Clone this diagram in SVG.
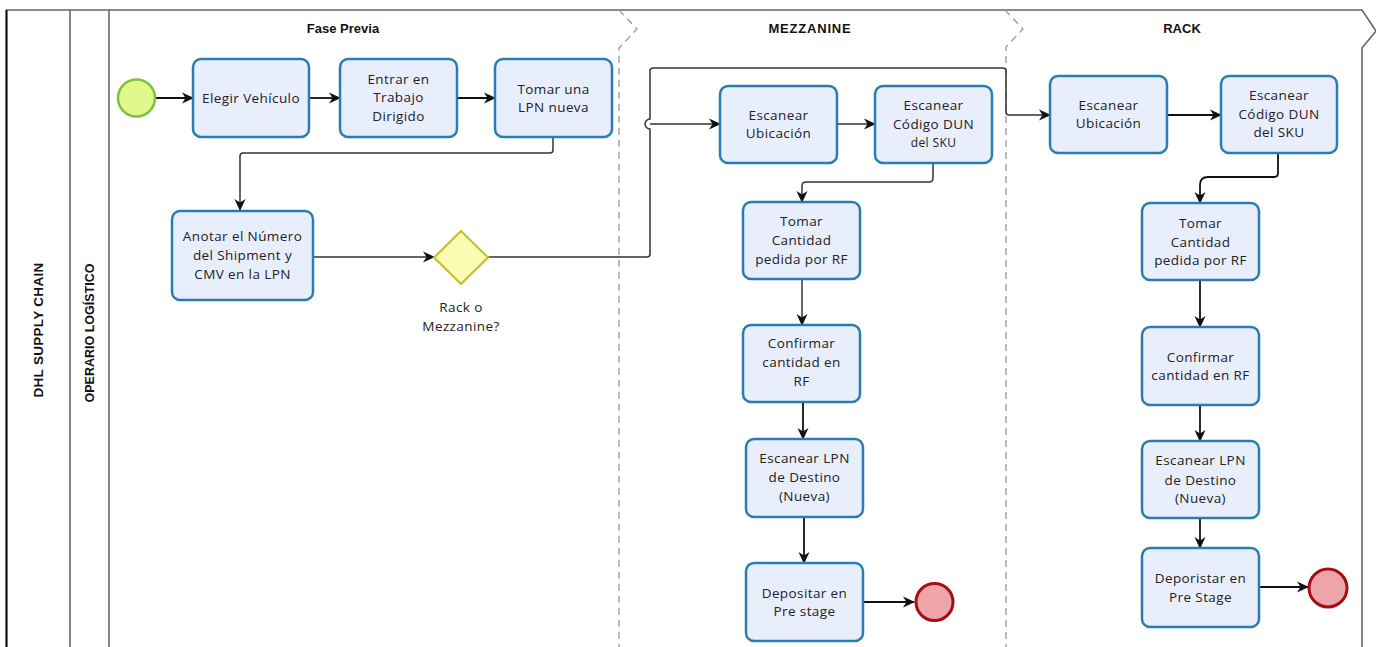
<svg xmlns="http://www.w3.org/2000/svg" width="1376" height="647" viewBox="0 0 1376 647">
  <style>
    .task { fill: #e9eefc; stroke: #2a7db0; stroke-width: 2.5; }
    .txt { font-family: "Open Sans", "Liberation Sans", sans-serif; font-size: 13.5px; letter-spacing: 0.4px; fill: #222; text-anchor: middle; }
    .hdr { font-family: "Liberation Sans", Arial, sans-serif; font-size: 13px; font-weight: bold; fill: #111; text-anchor: middle; }
    .lane { font-family: "Liberation Sans", Arial, sans-serif; font-size: 12.5px; font-weight: bold; fill: #111; text-anchor: middle; }
    .conn { fill: none; stroke: #333; stroke-width: 1.5; }
    .bold { stroke: #111; stroke-width: 1.8; }
    .sep { fill: none; stroke: #999; stroke-width: 1.3; stroke-dasharray: 7 5; }
    .frame { fill: none; stroke: #666; stroke-width: 1.6; }
  </style>
  <defs>
    <marker id="arrow" markerUnits="userSpaceOnUse" markerWidth="13" markerHeight="12" refX="11" refY="6" orient="auto">
      <path d="M0,0.5 L12,6 L0,11.5 L3.5,6 z" fill="#111"/>
    </marker>
  </defs>

  <rect width="1376" height="647" fill="#ffffff"/>

  <!-- pool and lane frame -->
  <g id="pool">
    <path d="M6,10 H1362 L1376,31 L1362,48 V647" class="frame"/>
    <line x1="6.5" y1="10" x2="6.5" y2="647" stroke="#111" stroke-width="2.2"/>
    <line x1="70" y1="10" x2="70" y2="647" stroke="#777" stroke-width="1.8"/>
    <line x1="109" y1="10" x2="109" y2="647" stroke="#777" stroke-width="1.8"/>
    <text class="lane" transform="translate(43,330) rotate(-90)" style="font-size:13.5px;letter-spacing:0.3px">DHL SUPPLY CHAIN</text>
    <text class="lane" transform="translate(94,333) rotate(-90)">OPERARIO LOGÍSTICO</text>
  </g>

  <!-- phase separators and titles -->
  <g id="phases">
    <path d="M619,10 L637,29 L619,48 V647" class="sep"/>
    <path d="M1005,10 L1023,29 L1006,47 V647" class="sep"/>
    <text class="hdr" x="343" y="32.5">Fase Previa</text>
    <text class="hdr" x="810" y="32.5" style="letter-spacing:0.8px">MEZZANINE</text>
    <text class="hdr" x="1182" y="32.5">RACK</text>
  </g>

  <!-- connectors -->
  <g id="connectors">
    <line x1="156" y1="98" x2="193" y2="98" class="conn bold" marker-end="url(#arrow)"/>
    <line x1="309" y1="98" x2="340" y2="98" class="conn bold" marker-end="url(#arrow)"/>
    <line x1="457" y1="98" x2="495" y2="98" class="conn bold" marker-end="url(#arrow)"/>
    <path d="M553,137 V150 Q553,153 550,153 H243 Q240,153 240,156 V210" class="conn" marker-end="url(#arrow)"/>
    <line x1="313" y1="257" x2="434" y2="257" class="conn" marker-end="url(#arrow)"/>
    <!-- gateway to rack, with a line jump where it meets the mezzanine branch -->
    <path d="M488,257 H647 Q650,257 650,254 V129 A5,5 0 0 1 650,119 V71 Q650,68 653,68 H1003 Q1006,68 1006,71 V112 Q1006,115 1009,115 H1050" class="conn" marker-end="url(#arrow)"/>
    <!-- gateway to mezzanine -->
    <path d="M650,124 H720" class="conn" marker-end="url(#arrow)"/>
    <line x1="837" y1="124" x2="875" y2="124" class="conn" marker-end="url(#arrow)"/>
    <path d="M933,163 V178 Q933,182 929,182 H806 Q802,182 802,186 V202" class="conn" marker-end="url(#arrow)"/>
    <line x1="802" y1="279" x2="802" y2="325" class="conn" marker-end="url(#arrow)"/>
    <line x1="803" y1="402" x2="803" y2="439" class="conn bold" marker-end="url(#arrow)"/>
    <line x1="804" y1="517" x2="804" y2="563" class="conn bold" marker-end="url(#arrow)"/>
    <line x1="863" y1="602" x2="914" y2="602" class="conn bold" marker-end="url(#arrow)"/>
    <line x1="1167" y1="115" x2="1221" y2="115" class="conn bold" marker-end="url(#arrow)"/>
    <path d="M1278,153 V173 Q1278,177 1274,177 H1208 Q1200,177 1200,185 V203" class="conn bold" marker-end="url(#arrow)"/>
    <line x1="1200" y1="280" x2="1200" y2="327" class="conn bold" marker-end="url(#arrow)"/>
    <line x1="1200" y1="405" x2="1200" y2="441" class="conn bold" marker-end="url(#arrow)"/>
    <line x1="1200" y1="518" x2="1200" y2="548" class="conn bold" marker-end="url(#arrow)"/>
    <line x1="1258" y1="587" x2="1308" y2="587" class="conn bold" marker-end="url(#arrow)"/>
  </g>

  <!-- Fase Previa -->
  <g id="start">
    <circle cx="136.5" cy="98" r="18.5" fill="#e2f78c" stroke="#7cc23e" stroke-width="2.5"/>
  </g>
  <g id="elegir-vehiculo">
    <rect x="193" y="59" width="116" height="78" rx="8" class="task"/>
    <text class="txt" x="251" y="102.5">Elegir Vehículo</text>
  </g>
  <g id="entrar-trabajo">
    <rect x="340" y="59" width="117" height="78" rx="8" class="task"/>
    <text class="txt" x="398.5" y="83.5">Entrar en</text>
    <text class="txt" x="398.5" y="102">Trabajo</text>
    <text class="txt" x="398.5" y="120.5">Dirigido</text>
  </g>
  <g id="tomar-lpn">
    <rect x="495" y="59" width="117" height="78" rx="8" class="task"/>
    <text class="txt" x="553.5" y="93.5">Tomar una</text>
    <text class="txt" x="553.5" y="111.5">LPN nueva</text>
  </g>
  <g id="anotar-numero">
    <rect x="172" y="211" width="141" height="89" rx="8" class="task"/>
    <text class="txt" x="242.5" y="241">Anotar el Número</text>
    <text class="txt" x="242.5" y="260">del Shipment y</text>
    <text class="txt" x="242.5" y="279">CMV en la LPN</text>
  </g>
  <g id="gateway">
    <polygon points="461,231 488,257.5 461,284 434,257.5" fill="#fafcb4" stroke="#c3c22e" stroke-width="2.2"/>
    <text class="txt" x="461" y="311.5">Rack o</text>
    <text class="txt" x="461" y="330.5">Mezzanine?</text>
  </g>

  <!-- Mezzanine -->
  <g id="mz-escanear-ubicacion">
    <rect x="720" y="86" width="117" height="77" rx="8" class="task"/>
    <text class="txt" x="778.5" y="120">Escanear</text>
    <text class="txt" x="778.5" y="138">Ubicación</text>
  </g>
  <g id="mz-escanear-dun">
    <rect x="875" y="86" width="117" height="77" rx="8" class="task"/>
    <text class="txt" x="933.5" y="109.5">Escanear</text>
    <text class="txt" x="933.5" y="128.5">Código DUN</text>
    <text class="txt" x="933.5" y="147" style="font-size:12px">del SKU</text>
  </g>
  <g id="mz-tomar-cantidad">
    <rect x="743" y="202" width="117" height="77" rx="8" class="task"/>
    <text class="txt" x="801.5" y="226">Tomar</text>
    <text class="txt" x="801.5" y="245">Cantidad</text>
    <text class="txt" x="801.5" y="264">pedida por RF</text>
  </g>
  <g id="mz-confirmar">
    <rect x="743" y="325" width="117" height="77" rx="8" class="task"/>
    <text class="txt" x="801.5" y="347.5">Confirmar</text>
    <text class="txt" x="801.5" y="366.5">cantidad en</text>
    <text class="txt" x="801.5" y="386">RF</text>
  </g>
  <g id="mz-escanear-lpn">
    <rect x="746" y="439" width="117" height="78" rx="8" class="task"/>
    <text class="txt" x="804.5" y="462.5">Escanear LPN</text>
    <text class="txt" x="804.5" y="482">de Destino</text>
    <text class="txt" x="804.5" y="501">(Nueva)</text>
  </g>
  <g id="mz-depositar">
    <rect x="746" y="563" width="117" height="78" rx="8" class="task"/>
    <text class="txt" x="804.5" y="597.5">Depositar en</text>
    <text class="txt" x="804.5" y="615.5">Pre stage</text>
  </g>
  <g id="mz-end">
    <circle cx="934.5" cy="602" r="18.5" fill="#eda5a8" stroke="#a50f14" stroke-width="3"/>
  </g>

  <!-- Rack -->
  <g id="rk-escanear-ubicacion">
    <rect x="1050" y="76" width="117" height="77" rx="8" class="task"/>
    <text class="txt" x="1108.5" y="109.5">Escanear</text>
    <text class="txt" x="1108.5" y="127.5">Ubicación</text>
  </g>
  <g id="rk-escanear-dun">
    <rect x="1221" y="76" width="116" height="77" rx="8" class="task"/>
    <text class="txt" x="1279" y="99.5">Escanear</text>
    <text class="txt" x="1279" y="118.5">Código DUN</text>
    <text class="txt" x="1279" y="136.5">del SKU</text>
  </g>
  <g id="rk-tomar-cantidad">
    <rect x="1142" y="203" width="117" height="77" rx="8" class="task"/>
    <text class="txt" x="1200.5" y="227.5">Tomar</text>
    <text class="txt" x="1200.5" y="246.5">Cantidad</text>
    <text class="txt" x="1200.5" y="264.5">pedida por RF</text>
  </g>
  <g id="rk-confirmar">
    <rect x="1142" y="327" width="117" height="78" rx="8" class="task"/>
    <text class="txt" x="1200.5" y="361.5">Confirmar</text>
    <text class="txt" x="1200.5" y="379.5">cantidad en RF</text>
  </g>
  <g id="rk-escanear-lpn">
    <rect x="1142" y="441" width="117" height="77" rx="8" class="task"/>
    <text class="txt" x="1200.5" y="464.5">Escanear LPN</text>
    <text class="txt" x="1200.5" y="484.5">de Destino</text>
    <text class="txt" x="1200.5" y="502.5">(Nueva)</text>
  </g>
  <g id="rk-depositar">
    <rect x="1142" y="548" width="117" height="79" rx="8" class="task"/>
    <text class="txt" x="1200.5" y="582.5">Deporistar en</text>
    <text class="txt" x="1200.5" y="601.5">Pre Stage</text>
  </g>
  <g id="rk-end">
    <circle cx="1328" cy="588" r="19" fill="#eda5a8" stroke="#a50f14" stroke-width="3"/>
  </g>
</svg>
